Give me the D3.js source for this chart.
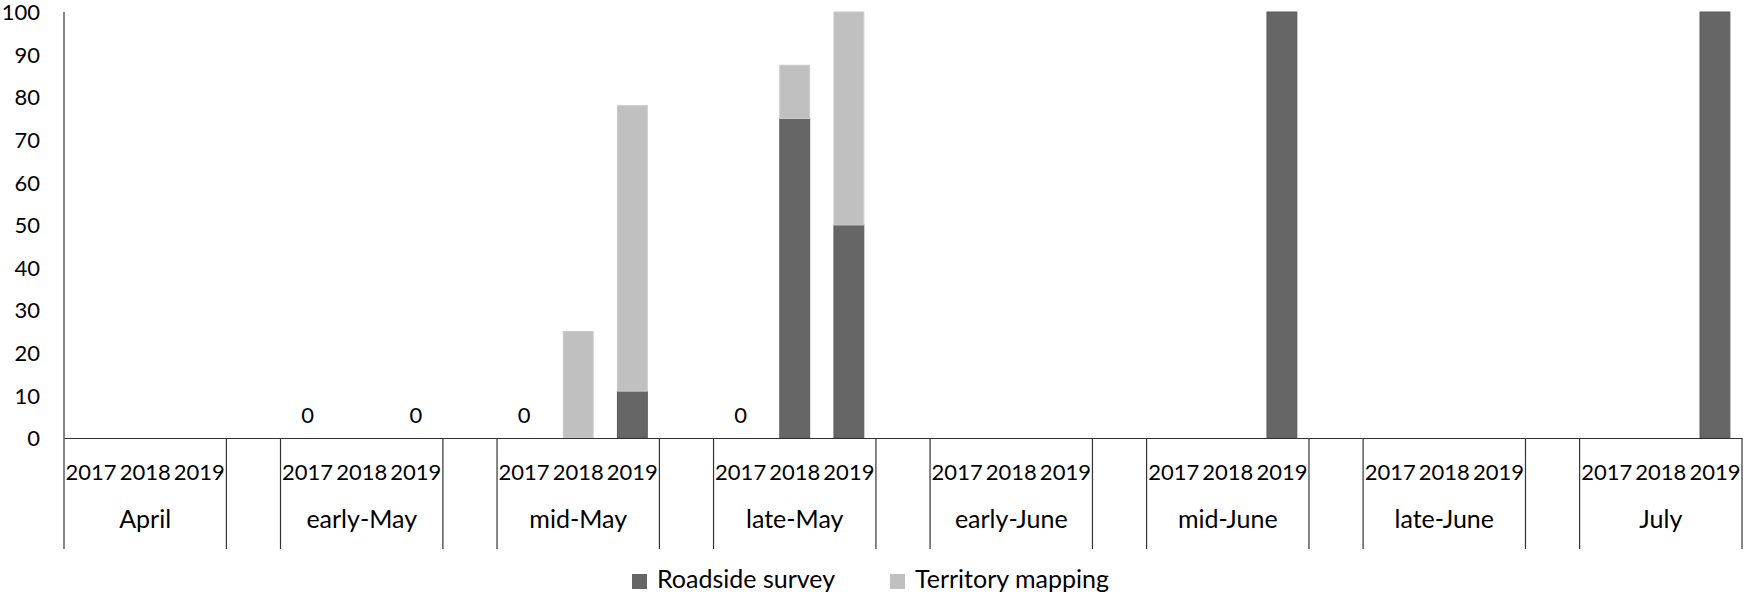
<!DOCTYPE html>
<html>
<head>
<meta charset="utf-8">
<script src="https://cdn.jsdelivr.net/npm/d3@7"></script>
<style>
  body { margin: 0; background: #fff; }
  text { font-family: Lato, "Noto Sans", sans-serif; fill: #000; }
</style>
</head>
<body>
<script>
// chart data
const periods = ["April", "early-May", "mid-May", "late-May", "early-June", "mid-June", "late-June", "July"];
const years = ["2017", "2018", "2019"];
// values per period, in year order 2017, 2018, 2019
const roadside  = [0,0,0,  0,0,0,  0,0,11,  0,75,50,  0,0,0,  0,0,100,  0,0,0,  0,0,100];
const territory = [0,0,0,  0,0,0,  0,25,67, 0,12.5,50, 0,0,0,  0,0,0,    0,0,0,  0,0,0];
// cells that show a "0" data label
const zeroLabels = [["early-May", "2017"], ["early-May", "2019"], ["mid-May", "2017"], ["late-May", "2017"]];
const yTicks = [0, 10, 20, 30, 40, 50, 60, 70, 80, 90, 100];
const seriesNames = ["Roadside survey", "Territory mapping"];
const colors = ["#666666", "#c0c0c0"];

const W = 1746, H = 599;
const margin = {top: 12, right: 4, bottom: 161, left: 64},
    width = W - margin.left - margin.right,
    height = H - margin.top - margin.bottom;

// slots: 3 years per period, one empty slot between periods
const slots = [];
periods.forEach((p, i) => {
  years.forEach(yr => slots.push(p + "|" + yr));
  if (i < periods.length - 1) slots.push("gap" + i);
});

const rows = [];
periods.forEach((p, i) => years.forEach((yr, j) => {
  rows.push({key: p + "|" + yr, period: p, year: yr,
    roadside: roadside[i * 3 + j], territory: territory[i * 3 + j]});
}));

const x = d3.scaleBand().domain(slots).range([0, width]).paddingInner(0.43).paddingOuter(0.215);
const y = d3.scaleLinear().domain([0, 100]).range([height, 0]);

const svg = d3.select("body").append("svg")
    .attr("width", W)
    .attr("height", H)
  .append("g")
    .attr("transform", `translate(${margin.left},${margin.top})`);

// stacked bars
const stack = d3.stack().keys(["roadside", "territory"])(rows);
svg.selectAll(".series")
    .data(stack)
  .enter().append("g")
    .attr("class", "series")
    .attr("fill", (d, i) => colors[i])
    .attr("stroke", (d, i) => i === 0 ? "#595959" : "#cacaca")
    .attr("stroke-width", 1)
  .selectAll("rect")
    .data(d => d.filter(s => s[1] - s[0] > 0))
  .enter().append("rect")
    .attr("x", d => x(d.data.key) + 0.5)
    .attr("width", x.bandwidth() - 1)
    .attr("y", d => y(d[1]))
    .attr("height", d => y(d[0]) - y(d[1]));

// zero labels
svg.selectAll(".zero")
    .data(zeroLabels)
  .enter().append("text")
    .attr("class", "zero")
    .attr("x", d => x(d[0] + "|" + d[1]) + x.bandwidth() / 2)
    .attr("y", y(0) - 21)
    .attr("text-anchor", "middle")
    .attr("dominant-baseline", "middle")
    .style("font-size", "22px")
    .text("0");

// y axis
const yAxis = svg.append("g")
    .call(d3.axisLeft(y).tickValues(yTicks).tickSize(0).tickPadding(24));
yAxis.select(".domain").remove();
yAxis.selectAll("text").style("font-size", "22px").attr("dy", "0.35em");

// x axis (years)
const xAxis = svg.append("g")
    .attr("transform", `translate(0,${height})`)
    .call(d3.axisBottom(x).tickSize(0).tickSizeOuter(0).tickPadding(0)
      .tickFormat(k => k.startsWith("gap") ? "" : k.split("|")[1]));
xAxis.select(".domain").attr("stroke", "#333").attr("stroke-width", 1.2);
xAxis.selectAll("text")
    .style("font-size", "22px")
    .attr("y", 34)
    .attr("dy", "0.35em");

// left axis line down through the category rows
svg.append("line")
    .attr("x1", 0).attr("x2", 0)
    .attr("y1", 0).attr("y2", height + 111)
    .attr("stroke", "#333").attr("stroke-width", 1.2);

// group separators and period labels
const step = x.step();
const groupStart = i => i * 4 * step;
const groupEnd = i => (i * 4 + 3) * step;
const seps = [];
periods.forEach((p, i) => { seps.push(groupStart(i)); seps.push(groupEnd(i)); });
svg.selectAll(".sep")
    .data(seps.filter(v => v > 0))
  .enter().append("line")
    .attr("class", "sep")
    .attr("x1", d => d).attr("x2", d => d)
    .attr("y1", height).attr("y2", height + 111)
    .attr("stroke", "#333").attr("stroke-width", 1.2);

svg.selectAll(".period")
    .data(periods)
  .enter().append("text")
    .attr("class", "period")
    .attr("x", (d, i) => (groupStart(i) + groupEnd(i)) / 2)
    .attr("y", height + 84)
    .attr("text-anchor", "middle")
    .attr("dominant-baseline", "middle")
    .style("font-size", "25px")
    .text(d => d);

// legend
const legendX = [632, 890];
const legend = d3.select("svg").selectAll(".legend")
    .data(seriesNames)
  .enter().append("g")
    .attr("class", "legend")
    .attr("transform", (d, i) => `translate(${legendX[i]},574)`);
legend.append("rect")
    .attr("width", 15).attr("height", 15)
    .attr("fill", (d, i) => colors[i]);
legend.append("text")
    .attr("x", 25).attr("y", 8)
    .attr("dominant-baseline", "middle")
    .style("font-size", "25px")
    .text(d => d);
</script>
</body>
</html>
